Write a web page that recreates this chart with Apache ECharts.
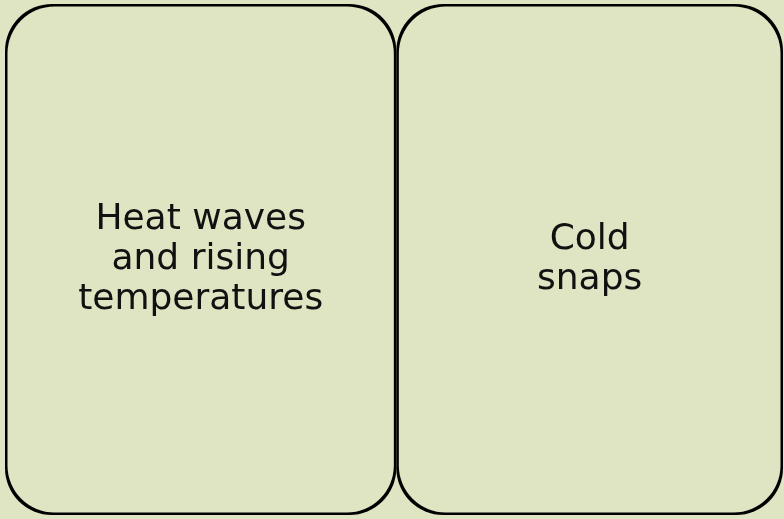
<!DOCTYPE html>
<html lang="en">
<head>
    <meta charset="UTF-8">
    <title>Climate hazards</title>
    <style>
        html, body {
            margin: 0;
            padding: 0;
            background: #dfe4c2;
        }

        #chart1 {
            width: 784px;
            height: 519px;
        }
    </style>
</head>
<body>
<div id="chart1"></div>
<script src="https://cdn.jsdelivr.net/npm/echarts@6/dist/echarts.min.js"></script>
<script type="text/javascript">
    var categories = ['Heat waves and rising temperatures', 'Cold snaps'];
    var labels = ['Heat waves\nand rising\ntemperatures', 'Cold\nsnaps'];
    var values = [50.3, 49.7];

    var chart1 = echarts.init(document.getElementById('chart1'));

    var items = [];
    for (var i = 0; i < categories.length; i++) {
        items.push({
            name: categories[i],
            value: values[i],
            label: {formatter: labels[i]}
        });
    }

    chart1.setOption({
        backgroundColor: '#dfe4c2',
        series: [{
            type: 'treemap',
            left: 5,
            top: 4,
            right: 1,
            bottom: 4,
            roam: false,
            nodeClick: false,
            breadcrumb: {show: false},
            squareRatio: 0.5,
            levels: [{
                // root: no fill, no frame
                itemStyle: {
                    color: 'transparent',
                    borderColor: 'transparent',
                    borderWidth: 0,
                    gapWidth: 0
                }
            }, {
                color: ['#dfe4c2'],
                itemStyle: {
                    color: '#dfe4c2',
                    borderColor: '#000',
                    borderWidth: 2.5,
                    borderRadius: 47
                }
            }],
            label: {
                show: true,
                position: 'inside',
                align: 'center',
                verticalAlign: 'middle',
                color: '#111',
                fontSize: 36,
                lineHeight: 40,
                fontFamily: 'DejaVu Sans'
            },
            data: items
        }]
    });
</script>
</body>
</html>
